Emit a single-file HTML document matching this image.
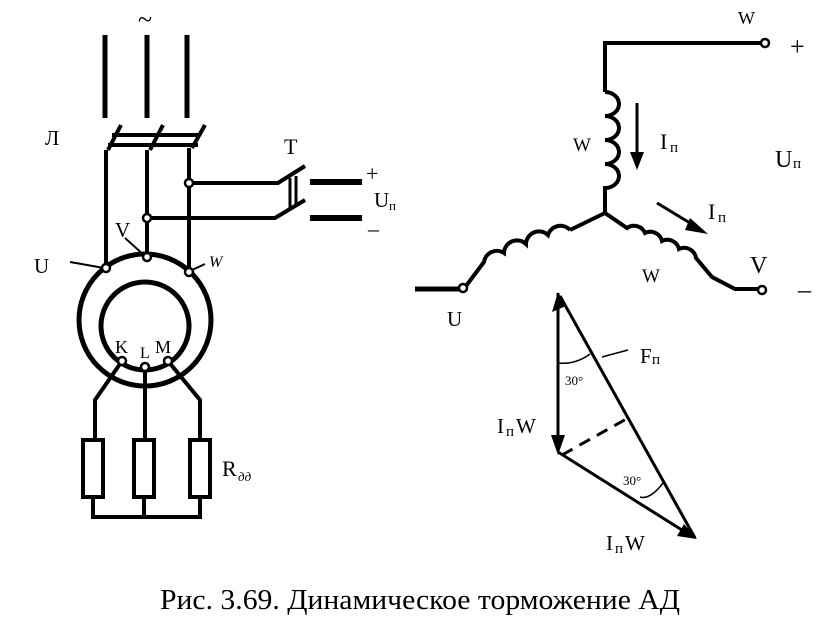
<!DOCTYPE html>
<html><head><meta charset="utf-8"><style>body{margin:0;background:#fff}svg{display:block}text{font-family:"Liberation Serif",serif;fill:#000}</style></head><body>
<svg width="840" height="629" viewBox="0 0 840 629" xmlns="http://www.w3.org/2000/svg">
<g stroke="#000" fill="none" stroke-width="4">
<path d="M105,35V118M147,35V118M187,35V118" stroke-width="5"/>
<path d="M121,125L108,150M163,125L150,150M205,125L192,148"/>
<path d="M112,135H200M108,145H198" stroke-width="4"/>
<path d="M106,150V268M147,150V258M189,148V272"/>
<path d="M189,183H278L305,166M147,218H275L305,200"/>
<path d="M290,178V208M296,176V206" stroke-width="3"/>
<path d="M310,182H362M310,218H362" stroke-width="6"/>
<circle cx="145" cy="320" r="66" stroke-width="5"/>
<circle cx="145" cy="326" r="44" stroke-width="5"/>
<path d="M122,361L95,400V440M145,367V440M168,361L200,400V440"/>
<rect x="83" y="440" width="20" height="57"/><rect x="134" y="440" width="20" height="57"/><rect x="190" y="440" width="20" height="57"/>
<path d="M93,497V517H200V497M144,497V517"/>
<path d="M70,262L104,268M125,238L145,256M192,270L205,264" stroke-width="2"/>
</g>
<g fill="#fff" stroke="#000" stroke-width="2.5">
<circle cx="189" cy="183" r="4"/><circle cx="147" cy="218" r="4"/><circle cx="106" cy="268" r="4"/><circle cx="147" cy="257" r="4"/><circle cx="189" cy="272" r="4"/>
<circle cx="122" cy="361" r="4"/><circle cx="145" cy="367" r="4"/><circle cx="168" cy="361" r="4"/>
</g>
<text x="138" y="28" font-size="26">~</text>
<text x="45" y="145" font-size="21">Л</text>
<text x="284" y="154" font-size="22">T</text>
<text x="366" y="181" font-size="22">+</text>
<text x="374" y="207" font-size="21">U</text><text x="389" y="210" font-size="13">п</text>
<text x="368" y="236" font-size="22">–</text>
<text x="34" y="273" font-size="21">U</text>
<text x="115" y="237" font-size="21">V</text>
<text x="209" y="267" font-size="16" font-style="italic">W</text>
<text x="115" y="353" font-size="18">K</text><text x="140" y="358" font-size="16">L</text><text x="155" y="353" font-size="18">M</text>
<text x="222" y="476" font-size="22">R</text><text x="238" y="481" font-size="13" font-style="italic">дд</text>

<g stroke="#000" fill="none" stroke-width="4">
<path d="M761,43H605V92"/>
<path d="M605,92 a14,12 0 0 1 0,24 a14,12 0 0 1 0,24 a14,12 0 0 1 0,24 a14,12 0 0 1 0,24 V213"/>
<path d="M605,213L570,230"/>
<path d="M570,230 a13,13 0 0 0 -22,5 a13,13 0 0 0 -22,9 a13,13 0 0 0 -22,9 a13,13 0 0 0 -20,9 L466,286"/>
<path d="M415,289H459" stroke-width="5"/>
<path d="M605,213L627,228 a12,12 0 0 1 18,5 a12,12 0 0 1 17,8 a12,12 0 0 1 17,8 a12,12 0 0 1 17,9 L712,277L735,289H758"/>
<path d="M558,293V450M695,538L560,296M558,452L693,537" stroke-width="3"/>
<path d="M562,455L628,418" stroke-width="3" stroke-dasharray="12,8"/>
<path d="M602,357L628,350" stroke-width="1.5"/>
<path d="M558,363Q575,365 590,354" stroke-width="1.5"/>
<path d="M640,497Q650,500 663,483" stroke-width="1.5"/>
</g>
<path d="M637,103V155" stroke="#000" stroke-width="3"/><path d="M630,152L637,170L644,152z"/>
<path d="M657,203L695,226" stroke="#000" stroke-width="3"/><path d="M690,218L708,234L685,230z"/>
<path d="M551,435L558,455L565,435z"/><path d="M558,292L552,312L566,306z"/><path d="M697,539L677,536L684,524z"/>
<g fill="#fff" stroke="#000" stroke-width="2.5"><circle cx="765" cy="43" r="4"/><circle cx="463" cy="288" r="4"/><circle cx="762" cy="290" r="4"/></g>
<text x="738" y="24" font-size="18">W</text>
<text x="790" y="55" font-size="26">+</text>
<text x="573" y="151" font-size="19">W</text>
<text x="660" y="149" font-size="22">I</text><text x="670" y="152" font-size="15">п</text>
<text x="775" y="167" font-size="24">U</text><text x="793" y="168" font-size="15">п</text>
<text x="708" y="219" font-size="22">I</text><text x="718" y="222" font-size="15">п</text>
<text x="642" y="282" font-size="19">W</text>
<text x="750" y="273" font-size="24">V</text>
<text x="798" y="298" font-size="26">–</text>
<text x="447" y="326" font-size="21">U</text>
<text x="640" y="363" font-size="21">F</text><text x="652" y="364" font-size="15">п</text>
<text x="565" y="385" font-size="13">30°</text>
<text x="623" y="485" font-size="13">30°</text>
<text x="497" y="433" font-size="21">I</text><text x="506" y="436" font-size="15">п</text><text x="516" y="433" font-size="21">W</text>
<text x="606" y="550" font-size="21">I</text><text x="615" y="553" font-size="15">п</text><text x="625" y="550" font-size="21">W</text>
<text x="420" y="609" font-size="28" text-anchor="middle" textLength="520" lengthAdjust="spacingAndGlyphs">Рис. 3.69. Динамическое торможение АД</text>
</svg>
</body></html>
